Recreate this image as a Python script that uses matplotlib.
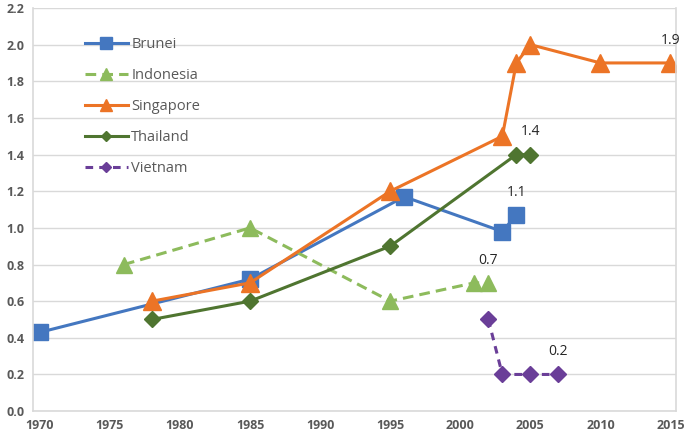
import matplotlib
matplotlib.use("Agg")
import matplotlib.pyplot as plt

plt.rcParams['font.family'] = ['Open Sans', 'DejaVu Sans']

brunei_years = [1970, 1985, 1996, 2003, 2004]
brunei_vals = [0.43, 0.72, 1.17, 0.98, 1.07]

indonesia_years = [1976, 1985, 1995, 2001, 2002]
indonesia_vals = [0.8, 1.0, 0.6, 0.7, 0.7]

singapore_years = [1978, 1985, 1995, 2003, 2004, 2005, 2010, 2015]
singapore_vals = [0.6, 0.7, 1.2, 1.5, 1.9, 2.0, 1.9, 1.9]

thailand_years = [1978, 1985, 1995, 2004, 2005]
thailand_vals = [0.5, 0.6, 0.9, 1.4, 1.4]

vietnam_years = [2002, 2003, 2005, 2007]
vietnam_vals = [0.5, 0.2, 0.2, 0.2]

# (year, value, text) point labels
annotations = [(2015, 1.9, "1.9"), (2005, 1.4, "1.4"), (2004, 1.07, "1.1"),
               (2002, 0.7, "0.7"), (2007, 0.2, "0.2")]

x_ticks = [1970, 1975, 1980, 1985, 1990, 1995, 2000, 2005, 2010, 2015]
y_ticks = [0.0, 0.2, 0.4, 0.6, 0.8, 1.0, 1.2, 1.4, 1.6, 1.8, 2.0, 2.2]

fig = plt.figure(figsize=(6.85, 4.43), dpi=100)
ax = fig.add_axes([0.048, 0.072, 0.939, 0.91])

ax.plot(brunei_years, brunei_vals, color="#4477C0", lw=2.2, marker="s", ms=11.5, label="Brunei")
ax.plot(indonesia_years, indonesia_vals, color="#8DBB5C", lw=2.2, ls=(0, (3.5, 2)), marker="^", ms=12, label="Indonesia")
ax.plot(singapore_years, singapore_vals, color="#EC7426", lw=2.2, marker="^", ms=12.5, label="Singapore")
ax.plot(thailand_years, thailand_vals, color="#4F7530", lw=2.2, marker="D", ms=8, label="Thailand")
ax.plot(vietnam_years, vietnam_vals, color="#6A3E98", lw=2.2, ls=(0, (2.5, 2)), marker="D", ms=8, label="Vietnam")

for yr, v, txt in annotations:
    ax.annotate(txt, (yr, v), xytext=(0, 11), textcoords="offset points",
                ha="center", va="bottom", fontsize=10, color="#262626")

ax.set_xlim(1969.5, 2015.4)
ax.set_ylim(0, 2.2)
ax.set_xticks(x_ticks)
ax.set_yticks(y_ticks)
ax.set_yticklabels([f"{v:.1f}" for v in y_ticks])
ax.tick_params(axis="both", length=0, labelsize=9, labelcolor="#595959", pad=6)
for lab in ax.get_xticklabels() + ax.get_yticklabels():
    lab.set_fontweight("bold")

ax.grid(axis="y", color="#D9D9D9", lw=1)
ax.set_axisbelow(True)
ax.spines["top"].set_visible(False)
for side in ["left", "bottom", "right"]:
    ax.spines[side].set_color("#D9D9D9")
    ax.spines[side].set_linewidth(1.2)

leg = ax.legend(loc="upper left", bbox_to_anchor=(0.06, 0.96), frameon=False,
                fontsize=10.5, labelspacing=1.1, handlelength=3.0, handletextpad=0.2,
                markerscale=0.7)
for t in leg.get_texts():
    t.set_color("#595959")

fig.savefig("out.png", dpi=100)
